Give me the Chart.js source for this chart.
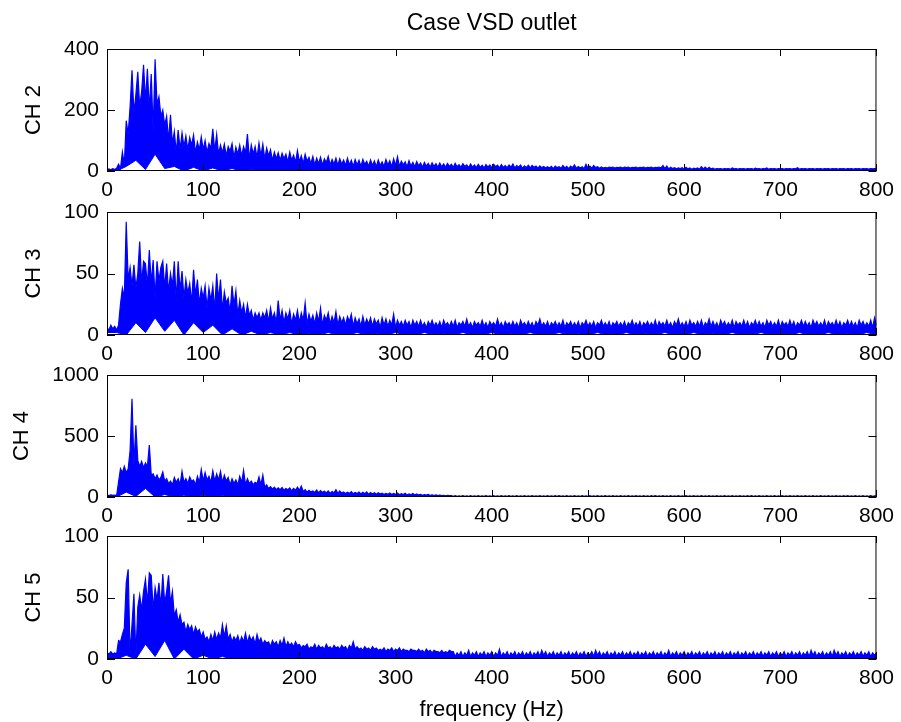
<!DOCTYPE html>
<html>
<head>
<meta charset="utf-8">
<script src="https://cdn.jsdelivr.net/npm/chart.js@4.4.1/dist/chart.umd.min.js"></script>
<style>
  html, body { margin: 0; padding: 0; background: #fff; overflow: hidden; }
  #wrap { position: relative; width: 901px; height: 722px; }
  canvas { position: absolute; left: 0; }
</style>
</head>
<body>
<div id="wrap">
  <canvas id="c2" width="901" height="206" style="top:0px"></canvas>
  <canvas id="c3" width="901" height="180" style="top:190px"></canvas>
  <canvas id="c4" width="901" height="179" style="top:353px"></canvas>
  <canvas id="c5" width="901" height="209" style="top:514px"></canvas>
</div>
<script>
// espectros: borde superior cada 2 Hz (0..800 Hz)
const ch2Vals = [
  3, 7, 4, 8, 5, 9, 22, 8, 62, 20,
  165, 120, 210, 330, 190, 250, 325, 210, 260, 348,
  230, 335, 200, 318, 130, 366, 220, 244, 180, 200,
  150, 180, 100, 184, 90, 130, 60, 134, 70, 125,
  80, 115, 70, 110, 85, 118, 60, 95, 70, 112,
  70, 100, 60, 90, 75, 138, 65, 120, 55, 85,
  60, 88, 50, 80, 65, 90, 45, 78, 55, 85,
  50, 80, 60, 121, 40, 85, 55, 80, 45, 92,
  50, 88, 40, 75, 50, 70, 35, 62, 40, 60,
  35, 58, 40, 55, 30, 62, 35, 52, 28, 67,
  30, 50, 25, 55, 32, 45, 25, 48, 20, 42,
  25, 45, 20, 40, 28, 48, 20, 38, 22, 42,
  18, 40, 22, 36, 18, 42, 20, 35, 15, 38,
  20, 35, 15, 38, 22, 32, 16, 36, 18, 33,
  14, 36, 18, 30, 15, 38, 20, 34, 14, 40,
  18, 47, 15, 32, 20, 30, 14, 34, 16, 28,
  14, 31, 17, 26, 12, 28, 16, 25, 13, 27,
  15, 24, 12, 26, 14, 23, 12, 25, 15, 22,
  12, 25, 14, 21, 12, 24, 15, 20, 11, 23,
  13, 20, 11, 22, 12, 19, 10, 21, 13, 20,
  11, 22, 14, 19, 10, 21, 12, 18, 11, 20,
  12, 23, 10, 18, 13, 20, 9, 17, 11, 19,
  10, 18, 12, 16, 9, 17, 11, 15, 10, 14,
  10, 15, 8, 16, 11, 14, 9, 18, 10, 15,
  8, 16, 11, 20, 9, 15, 10, 14, 8, 22,
  10, 16, 9, 18, 11, 14, 9, 13, 10, 12,
  10, 13, 11, 13, 10, 12, 11, 13, 10, 13,
  11, 13, 10, 12, 11, 13, 10, 12, 11, 13,
  10, 12, 11, 13, 10, 12, 11, 13, 10, 18,
  8, 16, 7, 12, 8, 11, 7, 10, 8, 11,
  6, 12, 7, 10, 6, 9, 7, 10, 6, 14,
  7, 13, 6, 12, 7, 9, 6, 8, 7, 8,
  6, 8, 7, 8, 6, 10, 7, 8, 6, 8,
  7, 8, 6, 8, 7, 8, 6, 9, 7, 8,
  6, 8, 7, 10, 6, 8, 7, 8, 6, 8,
  7, 8, 6, 8, 7, 8, 6, 8, 7, 11,
  6, 8, 7, 8, 6, 8, 7, 8, 6, 8,
  7, 8, 6, 8, 7, 8, 6, 8, 7, 8,
  6, 8, 7, 8, 6, 8, 7, 8, 6, 8,
  7, 8, 6, 8, 7, 8, 6, 8, 7, 8,
  6
];

const ch3Vals = [
  6, 4, 8, 5, 7, 4, 8, 25, 38, 30,
  92, 45, 55, 40, 57, 38, 50, 76, 42, 60,
  58, 40, 69, 42, 61, 30, 60, 44, 55, 60,
  38, 58, 35, 50, 40, 60, 28, 60, 36, 52,
  30, 45, 34, 42, 26, 53, 32, 45, 25, 38,
  30, 40, 22, 38, 28, 40, 20, 50, 28, 45,
  20, 35, 26, 30, 18, 40, 24, 36, 16, 28,
  18, 25, 14, 25, 16, 20, 12, 18, 14, 18,
  12, 18, 14, 20, 11, 22, 13, 18, 10, 28,
  12, 20, 10, 18, 13, 20, 9, 17, 12, 20,
  10, 18, 12, 26, 9, 17, 11, 16, 9, 18,
  11, 22, 8, 16, 12, 18, 9, 15, 10, 19,
  8, 15, 10, 14, 8, 15, 11, 17, 7, 14,
  9, 13, 7, 15, 8, 13, 9, 14, 7, 13,
  9, 12, 6, 14, 8, 13, 7, 12, 8, 17,
  6, 12, 8, 11, 7, 12, 8, 11, 6, 12,
  8, 11, 7, 12, 7, 10, 6, 11, 8, 12,
  7, 10, 7, 11, 6, 12, 8, 10, 7, 11,
  7, 12, 6, 10, 8, 11, 7, 13, 7, 10,
  6, 11, 8, 10, 7, 12, 7, 10, 6, 11,
  8, 10, 7, 13, 7, 10, 6, 11, 8, 10,
  7, 11, 7, 10, 6, 12, 8, 10, 7, 11,
  7, 10, 6, 11, 8, 13, 7, 10, 7, 11,
  6, 10, 8, 11, 7, 10, 7, 12, 6, 10,
  8, 11, 7, 10, 7, 11, 6, 10, 8, 12,
  7, 10, 7, 11, 6, 10, 8, 12, 7, 10,
  7, 11, 6, 10, 8, 11, 7, 10, 7, 11,
  6, 10, 8, 12, 7, 10, 7, 11, 6, 10,
  8, 11, 7, 10, 7, 12, 6, 11, 8, 10,
  7, 12, 7, 10, 6, 11, 8, 13, 7, 10,
  7, 11, 6, 12, 8, 10, 7, 11, 7, 12,
  6, 10, 8, 13, 7, 11, 7, 10, 6, 12,
  8, 11, 7, 10, 7, 12, 6, 11, 8, 10,
  7, 12, 7, 11, 6, 10, 8, 12, 7, 11,
  7, 10, 6, 12, 8, 11, 7, 10, 7, 12,
  6, 11, 8, 10, 7, 12, 7, 11, 6, 10,
  8, 12, 7, 11, 7, 10, 6, 12, 8, 11,
  7, 10, 7, 12, 6, 11, 8, 10, 7, 12,
  7, 11, 6, 10, 8, 12, 7, 11, 7, 10,
  6, 12, 8, 11, 7, 10, 7, 12, 6, 14,
  8
];

const ch4Vals = [
  15, 12, 18, 14, 16, 12, 123, 232, 200, 251,
  200, 230, 380, 805, 260, 587, 300, 250, 292, 240,
  280, 250, 426, 180, 190, 150, 180, 140, 160, 205,
  130, 150, 110, 130, 100, 160, 120, 150, 100, 210,
  120, 150, 110, 165, 130, 140, 100, 170, 120, 227,
  130, 200, 140, 170, 120, 215, 130, 190, 140, 210,
  120, 180, 130, 160, 100, 150, 110, 140, 100, 170,
  120, 218, 100, 150, 110, 130, 100, 120, 110, 165,
  100, 180, 80, 100, 70, 85, 65, 80, 60, 75,
  60, 78, 55, 70, 60, 75, 50, 70, 55, 80,
  55, 90, 45, 60, 40, 55, 42, 50, 38, 58,
  35, 52, 38, 48, 34, 50, 30, 45, 35, 60,
  30, 50, 32, 42, 28, 40, 30, 45, 26, 38,
  28, 40, 25, 38, 27, 42, 22, 36, 25, 35,
  22, 34, 24, 32, 20, 30, 23, 33, 20, 30,
  20, 32, 18, 28, 20, 30, 17, 26, 18, 28,
  16, 25, 17, 22, 14, 20, 15, 22, 13, 18,
  12, 18, 11, 15, 12, 14, 10, 13, 11, 12,
  5, 11, 6, 10, 5, 12, 6, 10, 5, 11,
  6, 10, 5, 11, 6, 10, 5, 12, 6, 10,
  5, 11, 6, 10, 5, 11, 6, 10, 5, 12,
  6, 10, 5, 11, 6, 10, 5, 11, 6, 10,
  5, 12, 6, 10, 5, 11, 6, 10, 5, 11,
  6, 10, 5, 11, 6, 12, 5, 10, 6, 11,
  5, 10, 6, 11, 5, 10, 6, 12, 5, 10,
  6, 11, 5, 10, 6, 11, 5, 10, 6, 12,
  5, 10, 6, 11, 5, 10, 6, 11, 5, 10,
  6, 12, 5, 10, 6, 11, 5, 10, 6, 11,
  5, 10, 6, 11, 5, 12, 6, 10, 5, 11,
  6, 10, 5, 11, 6, 10, 5, 12, 6, 10,
  5, 11, 6, 10, 5, 11, 6, 10, 5, 12,
  6, 10, 5, 11, 6, 10, 5, 11, 6, 10,
  5, 12, 6, 10, 5, 11, 6, 10, 5, 11,
  6, 10, 5, 11, 6, 12, 5, 10, 6, 11,
  5, 10, 6, 11, 5, 10, 6, 12, 5, 10,
  6, 11, 5, 10, 6, 11, 5, 10, 6, 12,
  5, 10, 6, 11, 5, 10, 6, 11, 5, 10,
  6, 12, 5, 10, 6, 11, 5, 10, 6, 11,
  5, 10, 6, 11, 5, 12, 6, 10, 5, 11,
  6, 10, 5, 11, 6, 10, 5, 12, 6, 10,
  8
];

const ch5Vals = [
  5, 4, 6, 4, 5, 4, 15, 14, 20, 25,
  62, 73, 4, 28, 53, 2, 42, 52, 40, 55,
  65, 45, 70, 68, 40, 58, 48, 62, 42, 69,
  45, 55, 68, 45, 55, 35, 40, 30, 36, 28,
  30, 22, 28, 24, 27, 20, 26, 22, 24, 18,
  22, 16, 18, 14, 20, 15, 22, 16, 21, 17,
  28, 18, 27, 16, 20, 14, 18, 15, 19, 13,
  18, 14, 21, 13, 19, 15, 18, 12, 20, 14,
  17, 12, 15, 13, 14, 10, 15, 12, 14, 10,
  15, 11, 17, 10, 14, 11, 13, 10, 14, 11,
  12, 9, 11, 10, 12, 8, 10, 9, 12, 8,
  11, 9, 10, 8, 12, 9, 10, 8, 11, 9,
  10, 8, 11, 9, 10, 7, 11, 9, 14, 8,
  10, 8, 9, 7, 10, 8, 9, 7, 10, 8,
  9, 7, 8, 7, 9, 6, 8, 7, 9, 6,
  8, 7, 9, 6, 8, 7, 7, 6, 8, 7,
  7, 6, 8, 6, 7, 5, 8, 6, 7, 5,
  7, 6, 6, 5, 7, 5, 6, 5, 7, 6,
  6, 2, 5, 3, 6, 2, 5, 3, 7, 2,
  5, 3, 6, 2, 5, 3, 6, 2, 5, 3,
  6, 2, 5, 3, 8, 2, 5, 3, 6, 2,
  5, 3, 6, 2, 5, 3, 6, 2, 5, 3,
  6, 2, 5, 3, 6, 2, 7, 3, 6, 2,
  5, 3, 6, 2, 5, 3, 6, 2, 5, 3,
  6, 2, 5, 3, 6, 2, 5, 3, 6, 2,
  5, 3, 6, 2, 7, 3, 6, 2, 5, 3,
  6, 2, 5, 3, 6, 2, 5, 3, 6, 2,
  5, 3, 6, 2, 5, 3, 6, 2, 5, 3,
  6, 2, 5, 3, 6, 2, 5, 3, 6, 2,
  5, 3, 7, 2, 5, 3, 6, 2, 5, 3,
  6, 2, 5, 3, 6, 2, 5, 3, 6, 2,
  5, 3, 6, 2, 5, 3, 6, 2, 5, 3,
  6, 2, 5, 3, 6, 2, 5, 3, 6, 2,
  5, 3, 6, 2, 5, 3, 6, 2, 5, 3,
  6, 2, 5, 3, 6, 2, 5, 3, 6, 2,
  5, 3, 6, 2, 5, 3, 6, 2, 5, 3,
  6, 2, 5, 3, 6, 2, 7, 3, 6, 2,
  5, 3, 6, 2, 5, 3, 6, 2, 7, 3,
  6, 2, 5, 3, 6, 2, 5, 3, 6, 2,
  5, 3, 6, 2, 5, 3, 6, 2, 5, 3,
  5
];

// borde inferior de la mancha azul (huecos blancos abajo), cada 10 Hz
const ch2Floor = [
  0, 0, 15, 35, 5, 55, 8, 15, 0, 12,
  0, 10, 0, 8, 0, 5, 0, 3, 0, 2,
  0, 0, 2, 0, 0, 0, 2, 0, 0, 0,
  3, 0, 0, 0, 2, 0, 0, 0, 0, 2,
  0, 0, 0, 0, 0, 0, 0, 0, 0, 0,
  0, 0, 0, 0, 0, 0, 0, 0, 0, 0,
  0, 0, 0, 0, 0, 0, 0, 0, 0, 0,
  0, 0, 0, 0, 0, 0, 0, 0, 0, 0,
  0
];
const ch3Floor = [
  2, 2, 0, 10, 2, 14, 3, 12, 0, 10,
  2, 8, 0, 5, 0, 3, 0, 2, 0, 2,
  0, 1, 0, 2, 0, 0, 2, 0, 1, 0,
  2, 0, 0, 2, 0, 1, 0, 2, 0, 0,
  2, 0, 1, 0, 2, 0, 0, 2, 0, 1,
  0, 2, 0, 0, 2, 0, 1, 0, 2, 0,
  0, 2, 0, 1, 0, 2, 0, 0, 2, 0,
  1, 0, 2, 0, 0, 2, 0, 1, 0, 2,
  0
];
const ch4Floor = [
  0, 0, 40, 5, 70, 0, 20, 0, 15, 0,
  12, 0, 10, 0, 6, 0, 0, 0, 0, 0,
  0, 0, 0, 0, 0, 0, 0, 0, 0, 0,
  0, 0, 0, 0, 0, 0, 0, 0, 0, 0,
  0, 0, 0, 0, 0, 0, 0, 0, 0, 0,
  0, 0, 0, 0, 0, 0, 0, 0, 0, 0,
  0, 0, 0, 0, 0, 0, 0, 0, 0, 0,
  0, 0, 0, 0, 0, 0, 0, 0, 0, 0,
  0
];
const ch5Floor = [
  0, 0, 3, 0, 12, 2, 15, 0, 8, 0,
  3, 0, 2, 0, 0, 0, 0, 0, 0, 0,
  0, 0, 0, 0, 0, 0, 0, 0, 0, 0,
  0, 0, 0, 0, 0, 0, 0, 0, 0, 0,
  0, 0, 0, 0, 0, 0, 0, 0, 0, 0,
  0, 0, 0, 0, 0, 0, 0, 0, 0, 0,
  0, 0, 0, 0, 0, 0, 0, 0, 0, 0,
  0, 0, 0, 0, 0, 0, 0, 0, 0, 0,
  0
];

const freqStepHz = 2;   // separacion del borde superior
const floorStepHz = 10; // separacion del borde inferior
const freqTicks = [0, 100, 200, 300, 400, 500, 600, 700, 800];
const figTitle = 'Case VSD outlet';
const xTitle = 'frequency (Hz)';

const FONT = "'Liberation Sans', Arial, Helvetica, sans-serif";
const AZUL = 'rgb(0, 0, 255)';

// caja estilo matlab con marcas hacia adentro en los 4 lados
const boxFrame = {
  id: 'boxFrame',
  afterDraw(chart) {
    const ctx = chart.ctx;
    const a = chart.chartArea;
    const xs = chart.scales.x, ys = chart.scales.y;
    ctx.save();
    ctx.strokeStyle = '#000';
    ctx.lineWidth = 1;
    ctx.beginPath();
    ctx.rect(a.left + 0.5, a.top + 0.5, a.right - a.left - 1, a.bottom - a.top - 1);
    xs.ticks.forEach(t => {
      const px = Math.round(xs.getPixelForValue(t.value)) + 0.5;
      ctx.moveTo(px, a.bottom); ctx.lineTo(px, a.bottom - 7);
      ctx.moveTo(px, a.top); ctx.lineTo(px, a.top + 7);
    });
    ys.ticks.forEach(t => {
      const py = Math.round(ys.getPixelForValue(t.value)) + 0.5;
      ctx.moveTo(a.left, py); ctx.lineTo(a.left + 8, py);
      ctx.moveTo(a.right, py); ctx.lineTo(a.right - 8, py);
    });
    ctx.stroke();
    ctx.restore();
  }
};

function grafica(id, vals, piso, yMax, yStep, yName, yTitlePad, xAxisH, topPad, extra) {
  const puntos = vals.map((v, i) => ({x: i * freqStepHz, y: v}));
  const puntosPiso = piso.map((v, i) => ({x: i * floorStepHz, y: v}));
  const escalas = {
    x: {
      type: 'linear',
      min: 0, max: 800,
      afterBuildTicks: s => { s.ticks = freqTicks.map(v => ({value: v})); },
      afterFit: s => { s.height = xAxisH; },
      grid: {display: false, drawTicks: false},
      border: {display: false},
      ticks: {color: '#000', padding: 7, maxRotation: 0, font: {family: FONT, size: 21}},
      title: extra.xTitle ? {
        display: true, text: extra.xTitle, color: '#000',
        font: {family: FONT, size: 22}, padding: {top: 0, bottom: 0}
      } : {display: false}
    },
    y: {
      min: 0, max: yMax,
      ticks: {stepSize: yStep, color: '#000', padding: 8, font: {family: FONT, size: 21},
              callback: v => String(v)},
      afterFit: s => { s.width = 107; },
      grid: {display: false, drawTicks: false},
      border: {display: false},
      title: {
        display: true, text: yName, color: '#000',
        font: {family: FONT, size: 22}, padding: {top: yTitlePad, bottom: 0}
      }
    }
  };
  if (extra.title) {
    // eje de arriba solo para centrar el titulo sobre el area de la grafica
    escalas.xTop = {
      type: 'linear', position: 'top', min: 0, max: 800,
      grid: {display: false, drawTicks: false},
      border: {display: false},
      ticks: {display: false},
      afterFit: s => { s.height = 49; },
      title: {
        display: true, text: extra.title, color: '#000',
        font: {family: FONT, size: 23}, padding: {top: 9.5, bottom: 0}
      }
    };
  }
  return new Chart(document.getElementById(id), {
    type: 'line',
    data: {
      datasets: [{
        data: puntos,
        borderColor: AZUL,
        backgroundColor: AZUL,
        borderWidth: 1.2,
        pointRadius: 0,
        tension: 0,
        fill: {target: '+1', above: AZUL, below: AZUL}
      }, {
        data: puntosPiso,
        borderColor: AZUL,
        borderWidth: 1,
        pointRadius: 0,
        tension: 0,
        fill: false
      }]
    },
    options: {
      responsive: false,
      animation: false,
      devicePixelRatio: 1,
      layout: {padding: {left: 0, right: 19, top: topPad, bottom: 0}},
      plugins: {
        legend: {display: false},
        tooltip: {enabled: false},
        title: {display: false}
      },
      scales: escalas
    },
    plugins: [boxFrame]
  });
}

var graficaCh2 = grafica('c2', ch2Vals, ch2Floor, 400, 200, 'CH 2', 21, 35, 0, {title: figTitle});
var graficaCh3 = grafica('c3', ch3Vals, ch3Floor, 100, 50, 'CH 3', 21, 35, 22, {});
var graficaCh4 = grafica('c4', ch4Vals, ch4Floor, 1000, 500, 'CH 4', 9, 35, 22, {});
var graficaCh5 = grafica('c5', ch5Vals, ch5Floor, 100, 50, 'CH 5', 21, 64, 22, {xTitle: xTitle});
</script>
</body>
</html>
